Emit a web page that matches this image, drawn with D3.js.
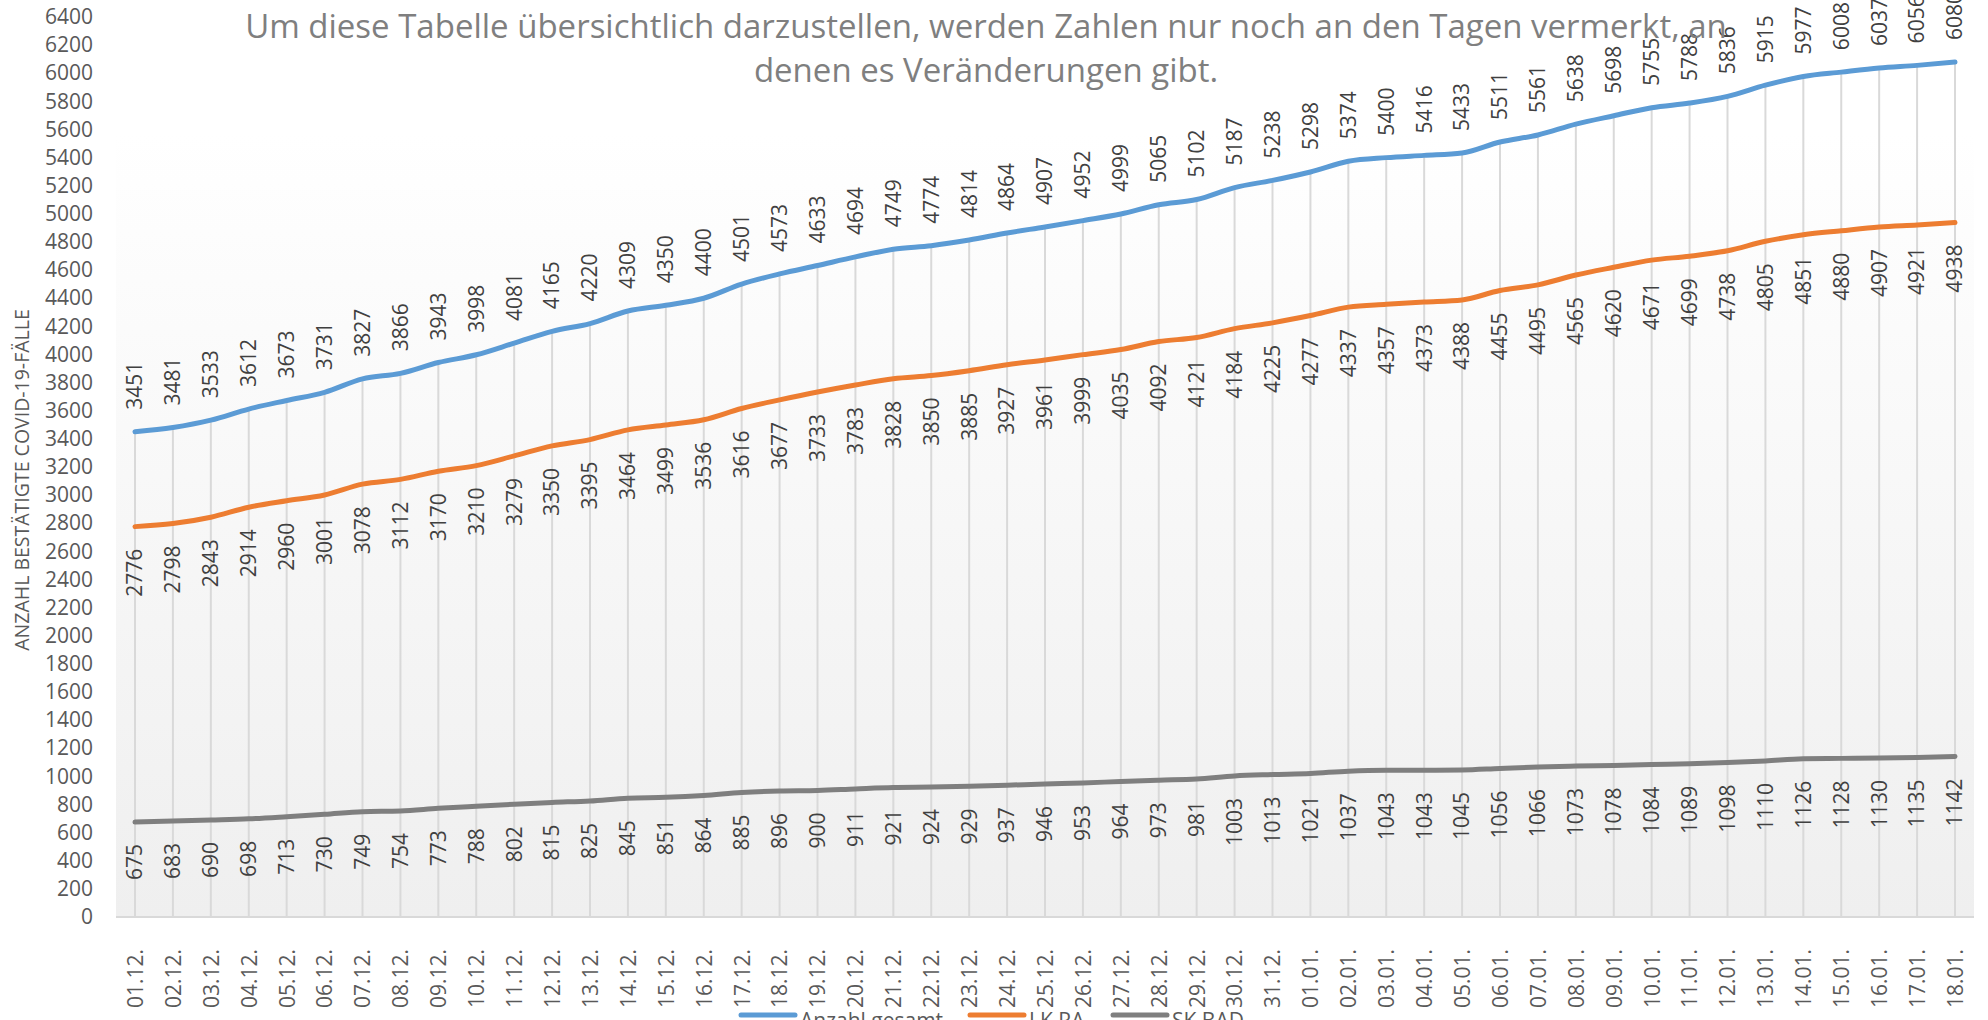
<!DOCTYPE html>
<html>
<head>
<meta charset="utf-8">
<script src="https://cdn.jsdelivr.net/npm/d3@7"></script>
<style>
  body { margin: 0; background: #fff; }
  svg { display: block; font-family: "Open Sans", "Noto Sans", sans-serif; }
</style>
</head>
<body>
<div id="chart"></div>
<script>
// dates (x categories)
var dates = ["01.12.", "02.12.", "03.12.", "04.12.", "05.12.", "06.12.", "07.12.", "08.12.", "09.12.", "10.12.",
  "11.12.", "12.12.", "13.12.", "14.12.", "15.12.", "16.12.", "17.12.", "18.12.", "19.12.", "20.12.",
  "21.12.", "22.12.", "23.12.", "24.12.", "25.12.", "26.12.", "27.12.", "28.12.", "29.12.", "30.12.", "31.12.",
  "01.01.", "02.01.", "03.01.", "04.01.", "05.01.", "06.01.", "07.01.", "08.01.", "09.01.", "10.01.",
  "11.01.", "12.01.", "13.01.", "14.01.", "15.01.", "16.01.", "17.01.", "18.01."];

var anzahlGesamt = [3451, 3481, 3533, 3612, 3673, 3731, 3827, 3866, 3943, 3998,
  4081, 4165, 4220, 4309, 4350, 4400, 4501, 4573, 4633, 4694,
  4749, 4774, 4814, 4864, 4907, 4952, 4999, 5065, 5102, 5187, 5238,
  5298, 5374, 5400, 5416, 5433, 5511, 5561, 5638, 5698, 5755,
  5788, 5836, 5915, 5977, 6008, 6037, 6056, 6080];

var lkRA = [2776, 2798, 2843, 2914, 2960, 3001, 3078, 3112, 3170, 3210,
  3279, 3350, 3395, 3464, 3499, 3536, 3616, 3677, 3733, 3783,
  3828, 3850, 3885, 3927, 3961, 3999, 4035, 4092, 4121, 4184, 4225,
  4277, 4337, 4357, 4373, 4388, 4455, 4495, 4565, 4620, 4671,
  4699, 4738, 4805, 4851, 4880, 4907, 4921, 4938];

var skBAD = [675, 683, 690, 698, 713, 730, 749, 754, 773, 788,
  802, 815, 825, 845, 851, 864, 885, 896, 900, 911,
  921, 924, 929, 937, 946, 953, 964, 973, 981, 1003, 1013,
  1021, 1037, 1043, 1043, 1045, 1056, 1066, 1073, 1078, 1084,
  1089, 1098, 1110, 1126, 1128, 1130, 1135, 1142];

var seriesNames = ["Anzahl gesamt", "LK RA", "SK BAD"];
var yTicks = d3.range(0, 6401, 200);

var width = 1988, height = 1020;
var series = [
  { name: seriesNames[0], values: anzahlGesamt, color: "#5B9BD5", pos: "above" },
  { name: seriesNames[1], values: lkRA, color: "#ED7D31", pos: "below" },
  { name: seriesNames[2], values: skBAD, color: "#7F7F7F", pos: "below" }
];

var svg = d3.select("#chart").append("svg")
    .attr("width", width)
    .attr("height", height);

var x = d3.scalePoint()
    .domain(dates)
    .range([135, 1955]);

var y = d3.scaleLinear()
    .domain([0, 6400])
    .range([917, 17]);

// plot area gradient
var grad = svg.append("defs").append("linearGradient")
    .attr("id", "bg").attr("x1", 0).attr("y1", 0).attr("x2", 0).attr("y2", 1);
grad.append("stop").attr("offset", "0%").attr("stop-color", "#ffffff");
grad.append("stop").attr("offset", "100%").attr("stop-color", "#efefef");

svg.append("rect")
    .attr("x", 116).attr("y", 133)
    .attr("width", 1974 - 116).attr("height", y(0) - 133)
    .style("fill", "url(#bg)");

// drop lines from highest series to axis
svg.append("g")
    .selectAll("line")
    .data(dates)
    .enter().append("line")
    .attr("x1", d => x(d)).attr("x2", d => x(d))
    .attr("y1", (d, i) => y(anzahlGesamt[i]))
    .attr("y2", y(0))
    .style("stroke", "#d9d9d9")
    .style("stroke-width", 2);

// bottom axis line
svg.append("line")
    .attr("x1", 116).attr("x2", 1974)
    .attr("y1", y(0)).attr("y2", y(0))
    .style("stroke", "#d9d9d9")
    .style("stroke-width", 2);

// y axis
var yAxis = g => g
    .attr("transform", "translate(100,0)")
    .call(d3.axisLeft(y).tickValues(yTicks).tickFormat(d3.format("d")).tickSize(0).tickPadding(7))
    .call(g => g.selectAll(".domain").remove())
    .selectAll("text")
    .style("font-size", "21px")
    .style("font-family", "'Open Sans', sans-serif")
    .style("fill", "#595959");

svg.append("g").call(yAxis);

// x axis labels
var xAxis = g => g
    .attr("transform", `translate(0, ${y(0)})`)
    .call(d3.axisBottom(x).tickSize(0))
    .call(g => g.selectAll(".domain").remove())
    .selectAll("text")
    .attr("transform", "rotate(-90)")
    .attr("x", -32)
    .attr("y", 0)
    .attr("dy", "0.35em")
    .style("text-anchor", "end")
    .style("font-size", "21px")
    .style("font-family", "'Open Sans', sans-serif")
    .style("fill", "#595959");

svg.append("g").call(xAxis);

// lines
var line = d3.line()
    .x((d, i) => x(dates[i]))
    .y(d => y(d))
    .curve(d3.curveMonotoneX);

svg.append("g")
    .selectAll("path")
    .data(series)
    .enter().append("path")
    .attr("d", d => line(d.values))
    .style("fill", "none")
    .style("stroke", d => d.color)
    .style("stroke-width", 5)
    .style("stroke-linejoin", "round")
    .style("stroke-linecap", "round");

// data labels
var gap = 22;
series.forEach(s => {
  svg.append("g")
    .selectAll("text")
    .data(s.values)
    .enter().append("text")
    .attr("transform", (d, i) => `translate(${x(dates[i])},${s.pos == "above" ? y(d) - gap : y(d) + gap}) rotate(-90)`)
    .attr("dy", "0.35em")
    .style("text-anchor", s.pos == "above" ? "start" : "end")
    .style("font-size", "21px")
    .style("fill", "#404040")
    .text(d => d);
});

// y axis title
svg.append("text")
    .attr("transform", "translate(22,480) rotate(-90)")
    .attr("dy", "0.35em")
    .style("text-anchor", "middle")
    .style("font-size", "19.5px")
    .style("fill", "#595959")
    .text("ANZAHL BESTÄTIGTE COVID-19-FÄLLE");

// title
var title = svg.append("text")
    .style("text-anchor", "middle")
    .style("font-size", "33px")
    .style("fill", "#7f7f7f");
title.append("tspan").attr("x", 986).attr("y", 38)
    .text("Um diese Tabelle übersichtlich darzustellen, werden Zahlen nur noch an den Tagen vermerkt, an");
title.append("tspan").attr("x", 986).attr("y", 82)
    .text("denen es Veränderungen gibt.");

// legend
var legendX = [741, 970, 1113];
var legend = svg.append("g")
    .selectAll("g")
    .data(series)
    .enter().append("g")
    .attr("transform", (d, i) => `translate(${legendX[i]},1015)`);
legend.append("line")
    .attr("x1", 0).attr("x2", 54)
    .style("stroke", d => d.color)
    .style("stroke-width", 5)
    .style("stroke-linecap", "round");
legend.append("text")
    .attr("x", 59)
    .attr("y", 13)
    .style("font-size", "21px")
    .style("fill", "#595959")
    .text(d => d.name);
</script>
</body>
</html>
